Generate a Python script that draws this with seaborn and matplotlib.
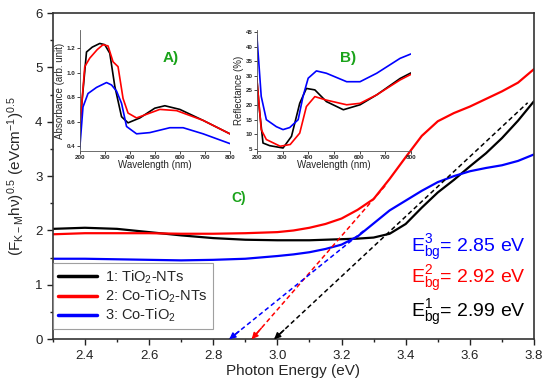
import seaborn as sns
import matplotlib.pyplot as plt
import pandas as pd
from matplotlib.ticker import MultipleLocator

sns.set_style('ticks')
plt.rcParams['font.family'] = ['Liberation Sans', 'DejaVu Sans']
plt.rcParams['mathtext.fontset'] = 'custom'
plt.rcParams['mathtext.rm'] = 'Liberation Sans'
plt.rcParams['mathtext.it'] = 'Liberation Sans:italic'
plt.rcParams['mathtext.default'] = 'regular'

# main panel: (F_KM h nu)^0.5 vs photon energy
energy = [2.30, 2.40, 2.50, 2.60, 2.70, 2.80, 2.90, 3.00, 3.05, 3.10, 3.15, 3.20, 3.25,
          3.30, 3.35, 3.40, 3.45, 3.50, 3.55, 3.60, 3.65, 3.70, 3.75, 3.80]
km_tio2_nts = [2.03, 2.05, 2.03, 1.97, 1.91, 1.86, 1.83, 1.82, 1.82, 1.82, 1.83, 1.84, 1.85,
               1.87, 1.94, 2.12, 2.42, 2.70, 2.93, 3.18, 3.42, 3.70, 4.02, 4.38]
km_co_tio2_nts = [1.93, 1.95, 1.95, 1.95, 1.94, 1.94, 1.95, 1.97, 2.00, 2.05, 2.12, 2.22, 2.38,
                  2.58, 2.95, 3.35, 3.74, 4.01, 4.16, 4.28, 4.42, 4.56, 4.72, 4.97]
km_co_tio2 = [1.48, 1.48, 1.47, 1.46, 1.45, 1.46, 1.48, 1.53, 1.56, 1.60, 1.66, 1.74, 1.89,
              2.13, 2.37, 2.55, 2.73, 2.89, 3.00, 3.09, 3.15, 3.20, 3.28, 3.40]

labels = ['1: TiO$_2$-NTs', '2: Co-TiO$_2$-NTs', '3: Co-TiO$_2$']
colors = ['black', '#ff0000', '#0000ff']

# band gap tangents
e_bg = [2.99, 2.92, 2.85]
tan_end_x = [3.78, 3.34, 3.27]
tan_end_y = [4.35, 2.85, 2.00]
bg_text = ['E$^{1}_{bg}$= 2.99 eV', 'E$^{2}_{bg}$= 2.92 eV', 'E$^{3}_{bg}$= 2.85 eV']
bg_text_y = [0.40, 1.03, 1.60]

# inset A: absorbance
abs_wl_1 = [200, 227, 250, 280, 300, 320, 340, 367, 393, 440, 500, 540, 600, 693, 800]
abs_1 = [0.56, 1.17, 1.21, 1.24, 1.23, 1.16, 0.89, 0.64, 0.59, 0.63, 0.71, 0.73, 0.70, 0.61, 0.50]
abs_wl_2 = [200, 220, 240, 270, 293, 313, 333, 353, 373, 393, 427, 467, 520, 587, 693, 800]
abs_2 = [0.54, 1.05, 1.12, 1.19, 1.23, 1.22, 1.09, 1.05, 0.79, 0.67, 0.63, 0.66, 0.70, 0.69, 0.61, 0.50]
abs_wl_3 = [200, 213, 233, 267, 307, 327, 347, 367, 387, 427, 480, 560, 613, 693, 800]
abs_3 = [0.38, 0.72, 0.83, 0.88, 0.92, 0.90, 0.85, 0.75, 0.56, 0.50, 0.51, 0.55, 0.55, 0.50, 0.42]

# inset B: reflectance
ref_wl_1 = [200, 210, 224, 250, 302, 335, 367, 393, 426, 471, 537, 602, 667, 758, 800]
ref_1 = [29.1, 18.4, 7.0, 6.1, 5.3, 9.3, 20.6, 25.7, 25.2, 21.2, 18.4, 20.1, 23.5, 29.1, 31.0]
ref_wl_2 = [200, 217, 237, 291, 330, 367, 393, 426, 471, 550, 602, 667, 758, 800]
ref_2 = [29.1, 11.6, 8.2, 5.9, 6.5, 10.4, 19.5, 22.9, 21.7, 20.1, 20.6, 23.5, 28.6, 30.5]
ref_wl_3 = [200, 217, 237, 276, 302, 328, 361, 380, 400, 432, 471, 550, 602, 667, 758, 800]
ref_3 = [43.9, 23.0, 15.0, 12.6, 11.6, 12.3, 15.0, 23.0, 29.2, 31.7, 30.9, 28.0, 28.0, 30.9, 36.0, 37.5]

fig = plt.figure(figsize=(5.5, 3.85), dpi=100)
ax = fig.add_axes([0.096, 0.119, 0.875, 0.847])

for ys, lab, c in zip([km_tio2_nts, km_co_tio2_nts, km_co_tio2], labels, colors):
    sns.lineplot(x=energy, y=ys, color=c, lw=1.6, label=lab, ax=ax)

for eg, xe, ye, c in zip(e_bg, tan_end_x, tan_end_y, colors):
    sns.lineplot(x=[eg, xe], y=[0, ye], color=c, lw=1.1, ls=(0, (3, 2)), ax=ax)
    slope = ye / (xe - eg)
    ax.annotate('', xy=(eg, 0), xytext=(eg + 0.03, 0.03 * slope),
                arrowprops=dict(arrowstyle='-|>', color=c, lw=1.1, mutation_scale=9,
                                shrinkA=0, shrinkB=0), annotation_clip=False)

for t, ty, c in zip(bg_text, bg_text_y, colors):
    ax.text(3.415, ty, t, color=c, fontsize=14, va='baseline', ha='left')

ax.text(2.857, 2.6, 'C)', color='#1aa31a', fontsize=10, fontweight='bold', va='center')

ax.set_xlim(2.3, 3.8)
ax.set_ylim(0, 6)
ax.xaxis.set_major_locator(MultipleLocator(0.2))
ax.xaxis.set_minor_locator(MultipleLocator(0.1))
ax.yaxis.set_major_locator(MultipleLocator(1))
ax.yaxis.set_minor_locator(MultipleLocator(0.5))
ax.tick_params(which='major', direction='out', length=4, width=1, labelsize=9.5, colors='#222222')
ax.tick_params(which='minor', direction='out', length=2.5, width=1, colors='#222222')
ax.set_xlabel('Photon Energy (eV)', fontsize=11, labelpad=2)
ax.set_ylabel('(F$_{K-M}$hν)$^{0.5}$ (eVcm$^{-1}$)$^{0.5}$', fontsize=11, labelpad=6)
for s in ax.spines.values():
    s.set_linewidth(1.2)
    s.set_color('#333333')

leg = ax.legend(loc='lower left', bbox_to_anchor=(0, 0.03), borderaxespad=0, fontsize=10.5,
                frameon=True, fancybox=False, edgecolor='#888888', handlelength=2.7,
                labelspacing=0.12, borderpad=0.35, handletextpad=0.5)
leg.get_frame().set_linewidth(0.8)
for h in leg.get_lines():
    h.set_linewidth(2.5)

# inset A
axa = fig.add_axes([0.145, 0.608, 0.273, 0.314])
axa.set_facecolor('none')
for wl, ys, c in zip([abs_wl_1, abs_wl_2, abs_wl_3], [abs_1, abs_2, abs_3], colors):
    sns.lineplot(x=wl, y=ys, color=c, lw=1.2, ax=axa)
axa.set_xlim(200, 800)
axa.set_ylim(0.36, 1.35)
axa.set_yticks([0.4, 0.6, 0.8, 1.0, 1.2])
axa.set_xlabel('Wavelength (nm)', fontsize=7, labelpad=0)
axa.set_ylabel('Absorbance (arb. unit)', fontsize=7, labelpad=1)
axa.text(0.55, 0.77, 'A)', transform=axa.transAxes, color='#1aa31a', fontsize=11,
         fontweight='bold', va='center')

# inset B
axb = fig.add_axes([0.467, 0.608, 0.28, 0.314])
axb.set_facecolor('none')
for wl, ys, c in zip([ref_wl_1, ref_wl_2, ref_wl_3], [ref_1, ref_2, ref_3], colors):
    sns.lineplot(x=wl, y=ys, color=c, lw=1.2, ax=axb)
axb.set_xlim(200, 800)
axb.set_ylim(4.3, 45.7)
axb.set_yticks(range(5, 50, 5))
axb.set_xlabel('Wavelength (nm)', fontsize=7, labelpad=0)
axb.set_ylabel('Reflectance (%)', fontsize=7, labelpad=1)
axb.text(0.54, 0.77, 'B)', transform=axb.transAxes, color='#1aa31a', fontsize=11,
         fontweight='bold', va='center')

for a in (axa, axb):
    sns.despine(ax=a)
    a.set_xticks(range(200, 900, 100))
    a.tick_params(direction='out', length=2, width=0.6, labelsize=4.5, pad=1)
    for lab in a.get_xticklabels() + a.get_yticklabels():
        lab.set_fontweight('bold')
    for s in a.spines.values():
        s.set_linewidth(0.6)
        s.set_color('#555555')

fig.savefig('out.png', dpi=100)
